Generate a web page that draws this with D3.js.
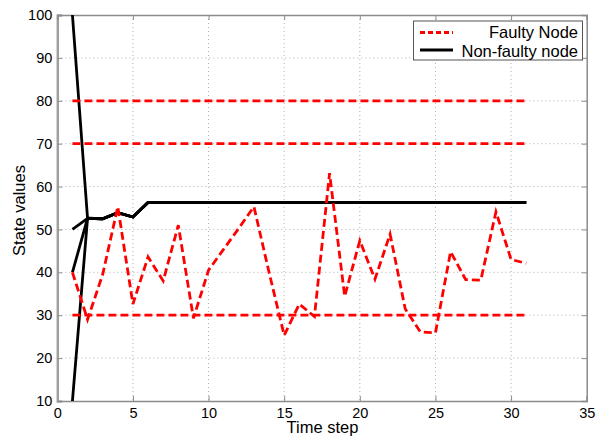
<!DOCTYPE html>
<html><head><meta charset="utf-8">
<script src="https://cdn.jsdelivr.net/npm/d3@7"></script>
<style>body{margin:0;background:#fff;} svg{display:block;font-family:"Liberation Sans",Arial,sans-serif;}</style>
</head><body><svg id="c" width="596" height="440"></svg>
<script>
const timeSteps = d3.range(1, 32);
const xTicks = [0,5,10,15,20,25,30,35];
const yTicks = [10,20,30,40,50,60,70,80,90,100];
const legendLabels = ["Faulty Node", "Non-faulty node"];
// faulty node with varying value
const faultyVarying = [40,29,39.5,55.3,32.6,43.6,38,51,29.3,40.5,45.4,50.3,55.3,40,25.3,32.6,29.7,63.1,34.4,47.4,38.4,48.9,31.5,26.1,25.9,44.8,38.3,38.2,54.1,43,42.1];
// faulty nodes with constant values
const faultyConstants = [80, 70, 30];
// non-faulty nodes: initial values and common consensus trajectory from t=2
const nonFaultyInitial = [100, 50, 40, 10];
const nonFaultyTrajectory = [52.6,52.5,53.9,52.9,56.3,56.3,56.3,56.3,56.3,56.3,56.3,56.3,56.3,56.3,56.3,56.3,56.3,56.3,56.3,56.3,56.3,56.3,56.3,56.3,56.3,56.3,56.3,56.3,56.3,56.3];

const svg = d3.select("#c");
const L=57.3, R=586.7, T=15, B=401;
const x = d3.scaleLinear().domain([0,35]).range([L,R]);
const y = d3.scaleLinear().domain([10,100]).range([B,T]);

// grid
const g = svg.append("g");
g.selectAll(".vg").data(xTicks.slice(1,-1)).join("line")
  .attr("x1",d=>x(d)).attr("x2",d=>x(d)).attr("y1",T).attr("y2",B)
  .attr("stroke","#b0b0b0").attr("stroke-width",1).attr("stroke-dasharray","1,3");
g.selectAll(".hg").data(yTicks.slice(1,-1)).join("line")
  .attr("y1",d=>y(d)).attr("y2",d=>y(d)).attr("x1",L).attr("x2",R)
  .attr("stroke","#b0b0b0").attr("stroke-width",1).attr("stroke-dasharray","1,3");

// axes
const xAxis = d3.axisBottom(x).tickValues(xTicks).tickSize(-5).tickPadding(7);
const yAxis = d3.axisLeft(y).tickValues(yTicks).tickSize(-5).tickPadding(5);
const xa = svg.append("g").attr("transform",`translate(0,${B})`).call(xAxis);
const ya = svg.append("g").attr("transform",`translate(${L},0)`).call(yAxis);
const xt = svg.append("g").attr("transform",`translate(0,${T})`).call(d3.axisTop(x).tickValues(xTicks).tickSize(-5).tickFormat(""));
const yr = svg.append("g").attr("transform",`translate(${R},0)`).call(d3.axisRight(y).tickValues(yTicks).tickSize(-5).tickFormat(""));
[xa,ya,xt,yr].forEach(a=>{
  a.select(".domain").attr("stroke","#8c8c8c").attr("stroke-width",1.5);
  a.selectAll(".tick line").attr("stroke","#8c8c8c");
  a.selectAll(".tick text").attr("font-size",14.5).attr("fill","#000").attr("font-family","Liberation Sans, Arial, sans-serif");
});
ya.select(".domain").attr("stroke","#a0a0a0").attr("stroke-width",2.5);

const line = d3.line().x(d=>x(d[0])).y(d=>y(d[1]));
svg.append("clipPath").attr("id","clip").append("rect").attr("x",L).attr("y",T).attr("width",R-L).attr("height",B-T);
const plot = svg.append("g").attr("clip-path","url(#clip)");

// non-faulty
nonFaultyInitial.forEach(v=>{
  const pts = [[1,v]].concat(nonFaultyTrajectory.map((w,i)=>[i+2,w]));
  plot.append("path").attr("d",line(pts)).attr("fill","none").attr("stroke","#000").attr("stroke-width",2.8);
});
// faulty constants
faultyConstants.forEach(v=>{
  plot.append("path").attr("d",line(timeSteps.map(t=>[t,v]))).attr("fill","none")
    .attr("stroke","#ff0000").attr("stroke-width",2.8).attr("stroke-dasharray","8,4");
});
plot.append("path").attr("d",line(faultyVarying.map((v,i)=>[timeSteps[i],v]))).attr("fill","none")
  .attr("stroke","#ff0000").attr("stroke-width",2.8).attr("stroke-dasharray","8,4");

// axis labels
svg.append("text").attr("x",322.5).attr("y",433).attr("text-anchor","middle").attr("font-size",16.5).text("Time step");
svg.append("text").attr("transform","translate(24.5,210.5) rotate(-90)").attr("text-anchor","middle").attr("font-size",16.5).text("State values");

// legend
const lg = svg.append("g");
lg.append("rect").attr("x",413.5).attr("y",21).attr("width",169).attr("height",39).attr("fill","#fff").attr("stroke","#555").attr("stroke-width",1);
lg.append("line").attr("x1",420).attr("x2",453).attr("y1",32.5).attr("y2",32.5).attr("stroke","#ff0000").attr("stroke-width",2.8).attr("stroke-dasharray","5,3");
lg.append("line").attr("x1",420).attr("x2",453).attr("y1",50).attr("y2",50).attr("stroke","#000").attr("stroke-width",2.8);
lg.append("text").attr("x",578).attr("y",37.5).attr("text-anchor","end").attr("font-size",16.5).text(legendLabels[0]);
lg.append("text").attr("x",578).attr("y",56.5).attr("text-anchor","end").attr("font-size",16.5).text(legendLabels[1]);
</script></body></html>
